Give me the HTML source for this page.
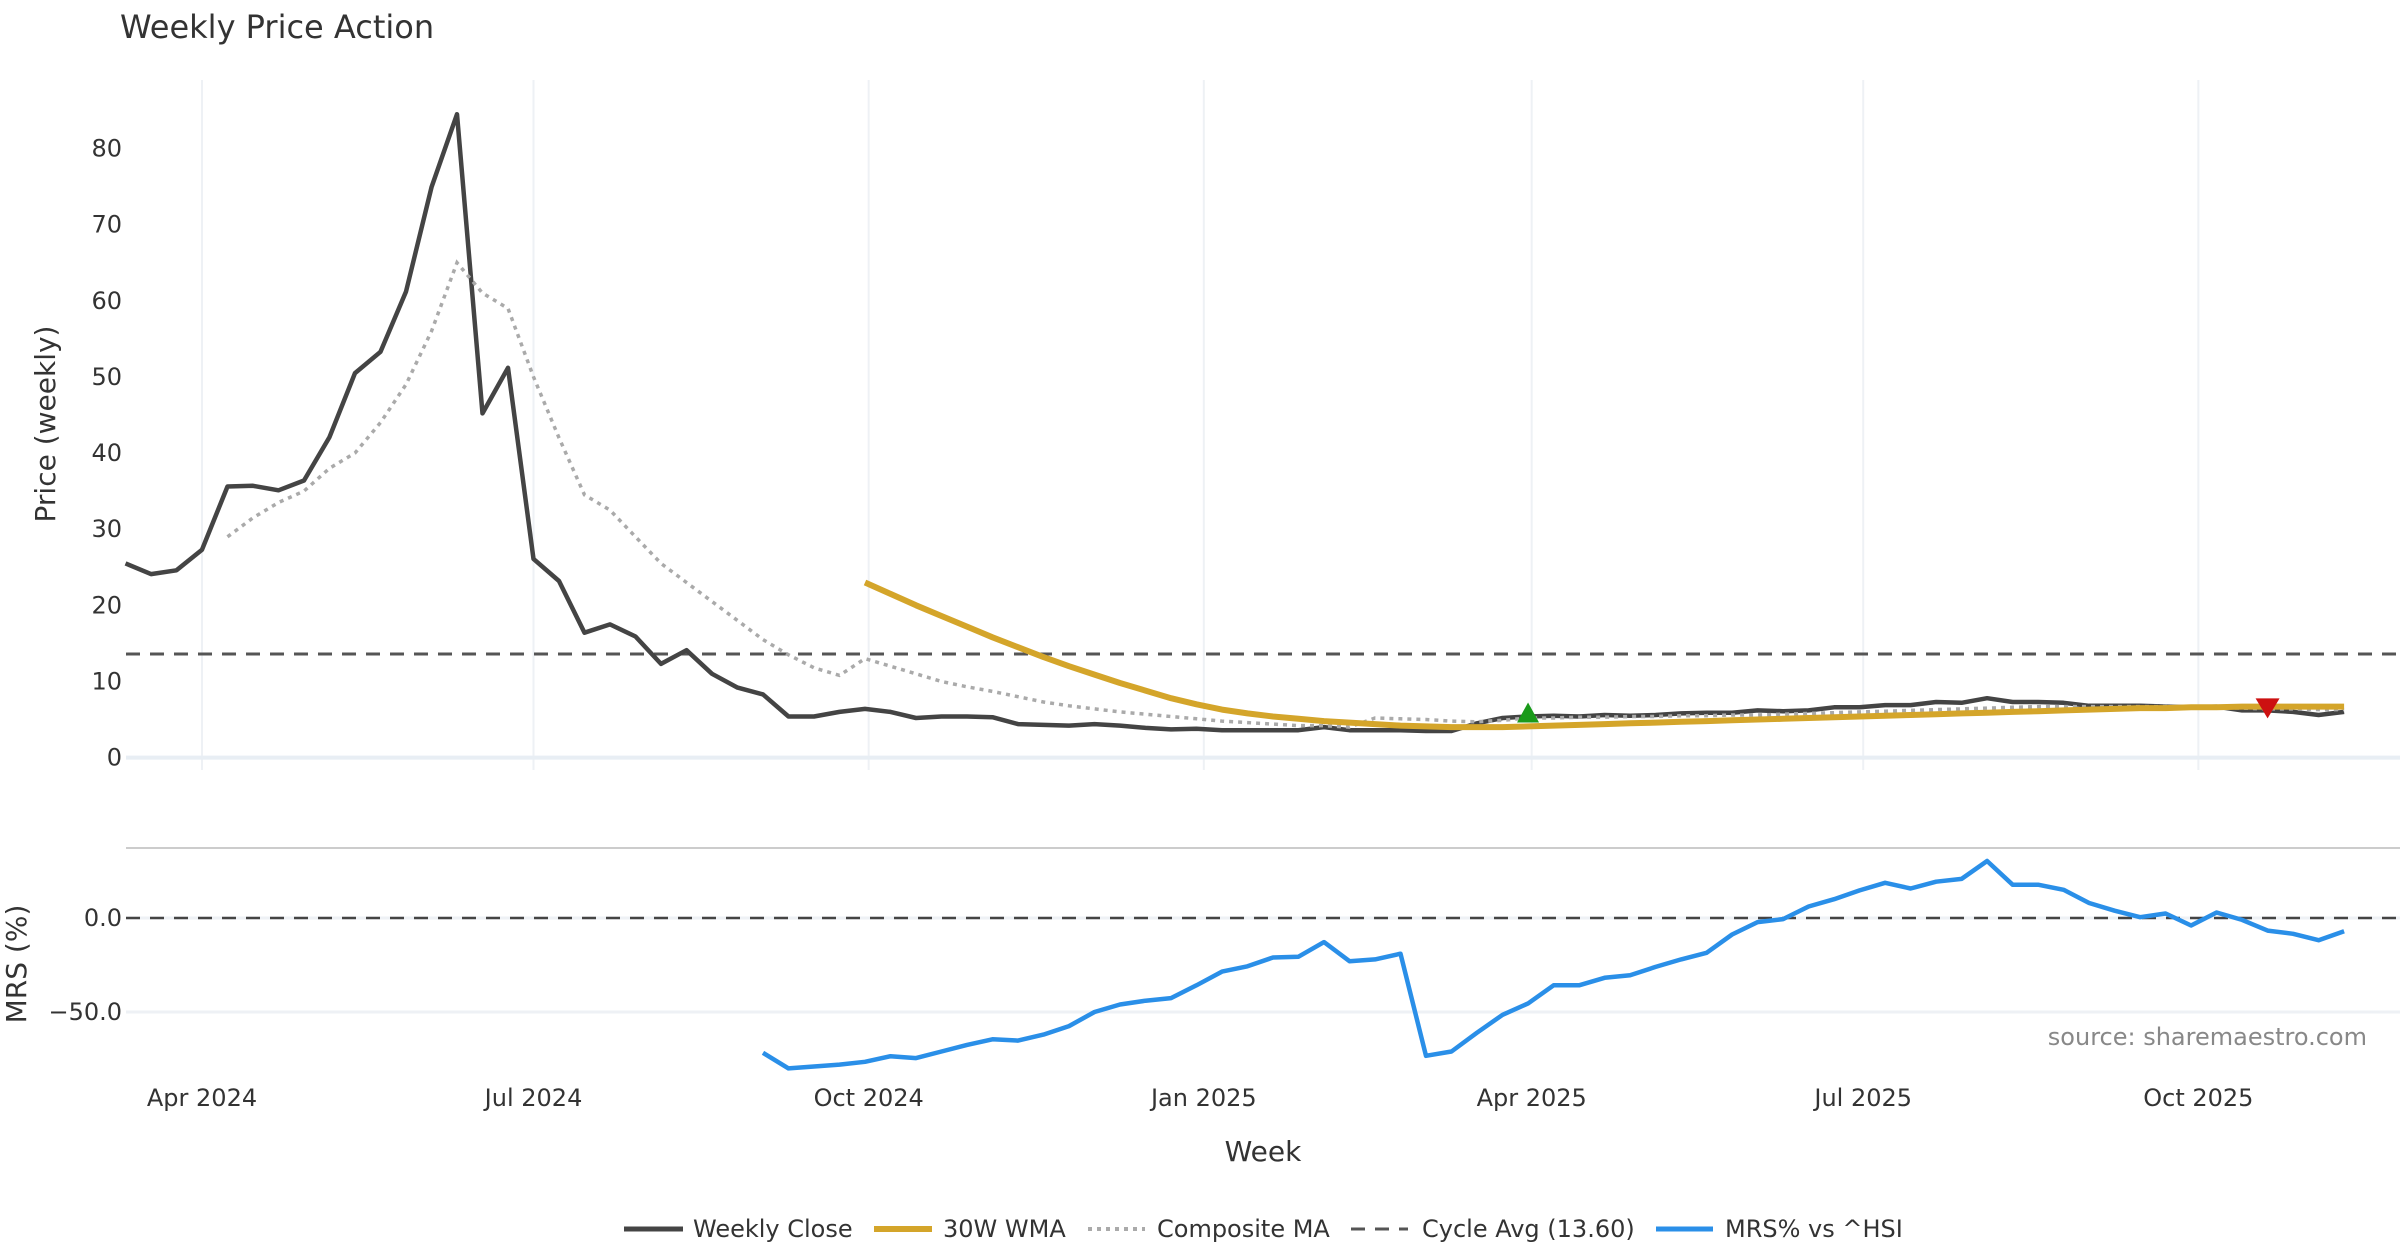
<!DOCTYPE html>
<html><head><meta charset="utf-8"><style>
html,body{margin:0;padding:0;background:#fff;}
svg{display:block;font-family:"DejaVu Sans","Liberation Sans",sans-serif;}
</style></head><body>
<svg id="chart" width="2400" height="1260" viewBox="0 0 2400 1260" xmlns="http://www.w3.org/2000/svg">
<text x="120" y="38" font-size="32" fill="#333">Weekly Price Action</text>
<g id="grid"></g>
<g id="series"></g>
<g id="axes"></g>
<text transform="translate(55,424) rotate(-90)" text-anchor="middle" font-size="28" fill="#333">Price (weekly)</text>
<text transform="translate(26,964) rotate(-90)" text-anchor="middle" font-size="28" fill="#333">MRS (%)</text>
<text x="1263" y="1161" text-anchor="middle" font-size="28" fill="#333">Week</text>
<text x="2367" y="1045" text-anchor="end" font-size="24" fill="#888">source: sharemaestro.com</text>
<g font-size="24" fill="#333">
<g><line x1="624" y1="1229" x2="683" y2="1229" stroke="#444" stroke-width="5"/><text x="693" y="1237">Weekly Close</text></g>
<g><line x1="874" y1="1229" x2="932" y2="1229" stroke="#d4a52a" stroke-width="6"/><text x="943" y="1237">30W WMA</text></g>
<g><line x1="1088" y1="1229" x2="1145" y2="1229" stroke="#aaa" stroke-width="4" stroke-dasharray="4,5"/><text x="1157" y="1237">Composite MA</text></g>
<g><line x1="1351" y1="1229" x2="1408" y2="1229" stroke="#555" stroke-width="3" stroke-dasharray="14,10"/><text x="1422" y="1237">Cycle Avg (13.60)</text></g>
<g><line x1="1656" y1="1229" x2="1713" y2="1229" stroke="#2a8fe8" stroke-width="5"/><text x="1725" y="1237">MRS% vs ^HSI</text></g>
</g>
</svg>
<script>
const startDate = [2024, 2, 11];
const closeVals = [25.5,24.1,24.6,27.3,35.6,35.7,35.1,36.4,42.1,50.5,53.3,61.2,74.9,84.5,45.2,51.2,26.1,23.2,16.4,17.5,15.9,12.3,14.1,11.0,9.2,8.3,5.4,5.4,6.0,6.4,6.0,5.2,5.4,5.4,5.3,4.4,4.3,4.2,4.4,4.2,3.9,3.7,3.8,3.6,3.6,3.6,3.6,4.0,3.6,3.6,3.6,3.5,3.5,4.5,5.2,5.4,5.5,5.4,5.6,5.5,5.6,5.8,5.9,5.9,6.2,6.1,6.2,6.6,6.6,6.9,6.9,7.3,7.2,7.8,7.3,7.3,7.2,6.8,6.8,6.8,6.7,6.6,6.7,6.2,6.2,6.0,5.6,6.0];
const compositeStart = 4;
const compositeVals = [29,31.5,33.5,35,38,40,44,49,56,65,61,59,50,42,34.5,32.5,29,25.5,23,20.5,18,15.5,13.5,11.8,10.8,13,12,11,10,9.3,8.7,8,7.3,6.8,6.4,6,5.7,5.4,5.1,4.8,4.6,4.4,4.2,4.2,4.0,5.2,5.1,5.0,4.8,4.7,4.9,5.2,5.2,5.3,5.3,5.4,5.4,5.5,5.5,5.6,5.6,5.7,5.8,5.9,6.0,6.1,6.2,6.3,6.4,6.5,6.6,6.7,6.7,6.7,6.7,6.7,6.7,6.6,6.6,6.5,6.4,6.4,6.3,6.3];
const wmaStart = 29;
const wmaVals = [23.0,21.5,20.0,18.6,17.2,15.8,14.5,13.2,12.0,10.9,9.8,8.8,7.8,7.0,6.3,5.8,5.4,5.1,4.8,4.6,4.4,4.2,4.1,4.0,4.0,4.0,4.1,4.2,4.3,4.4,4.5,4.6,4.7,4.8,4.9,5.0,5.1,5.2,5.3,5.4,5.5,5.6,5.7,5.8,5.9,6.0,6.1,6.2,6.3,6.4,6.5,6.5,6.6,6.6,6.7,6.7,6.7,6.7,6.7];
const mrsStart = 25;
const mrsVals = [-71.7,-80,-79,-78,-76.5,-73.5,-74.5,-71,-67.5,-64.5,-65.2,-62,-57.5,-50,-46,-44,-42.6,-35.8,-28.5,-25.7,-21,-20.6,-12.8,-23,-22,-19,-73.3,-71,-61,-51.5,-45.4,-35.8,-35.8,-31.8,-30.5,-26,-22,-18.5,-8.8,-2.2,-0.6,6.1,10,14.7,18.7,15.7,19.3,20.8,30.3,17.7,17.7,15,8,3.9,0.4,2.4,-4,2.9,-1,-6.7,-8.4,-11.8,-7.1];
const cycleAvg = 13.6;
const buyIndex = 55;
const sellIndex = 84;
const priceTicks = [0,10,20,30,40,50,60,70,80];
const mrsTicks = [0,-50];
const mrsTickLabels = ["0.0","−50.0"];
const xTickDates = [[2024,3,1],[2024,6,1],[2024,9,1],[2025,0,1],[2025,3,1],[2025,6,1],[2025,9,1]];
const xTickLabels = ["Apr 2024","Jul 2024","Oct 2024","Jan 2025","Apr 2025","Jul 2025","Oct 2025"];

const NS="http://www.w3.org/2000/svg";
const DAY=86400000;
const ref=Date.UTC(2024,3,1);
function xDate(t){return 202+(t-ref)/DAY*3.643;}
function xIdx(i){return xDate(Date.UTC(startDate[0],startDate[1],startDate[2])+i*7*DAY);}
function yP(v){return 757.6-v*7.614;}
function yM(v){return 918-v*1.88;}
const L=126,R=2400;
function mk(parent,tag,attrs){const e=document.createElementNS(NS,tag);for(const k in attrs)e.setAttribute(k,attrs[k]);document.getElementById(parent).appendChild(e);return e;}
function pathFrom(vals,start,yf){let d="";vals.forEach((v,j)=>{d+=(j?"L":"M")+xIdx(start+j).toFixed(1)+","+yf(v).toFixed(1);});return d;}

// grid
xTickDates.forEach((d,k)=>{
  const x=xDate(Date.UTC(d[0],d[1],d[2]));
  const g=mk("grid","line",{x1:x,y1:80,x2:x,y2:770,stroke:"#eef1f5","stroke-width":2});
  
  
  const t=mk("axes","text",{x:x,y:1106,"text-anchor":"middle","font-size":24,fill:"#333"});
  t.textContent=xTickLabels[k];
  
  
});
priceTicks.forEach(v=>{
  const t=mk("axes","text",{x:122,y:yP(v)+8,"text-anchor":"end","font-size":24,fill:"#333"});
  t.textContent=String(v);
  
  
});
const z=mk("grid","line",{x1:L,y1:yP(0),x2:R,y2:yP(0),stroke:"#e8eef4","stroke-width":4});


const bd=mk("grid","line",{x1:L,y1:848,x2:R,y2:848,stroke:"#cccccc","stroke-width":2});


mrsTicks.forEach((v,k)=>{
  const gl=mk("grid","line",{x1:L,y1:yM(v),x2:R,y2:yM(v),stroke:"#eef1f5","stroke-width":3});
  
  
  const t=mk("axes","text",{x:122,y:yM(v)+8,"text-anchor":"end","font-size":24,fill:"#333"});
  t.textContent=mrsTickLabels[k];
  
  
});
const mz=mk("series","line",{x1:L,y1:yM(0),x2:R,y2:yM(0),stroke:"#444","stroke-width":2.5,"stroke-dasharray":"14,10"});



// series
const cy=mk("series","line",{x1:L,y1:yP(cycleAvg),x2:R,y2:yP(cycleAvg),stroke:"#555","stroke-width":3,"stroke-dasharray":"14,10"});


const cl=mk("series","path",{d:pathFrom(closeVals,0,yP),fill:"none",stroke:"#444","stroke-width":4.5,"stroke-linejoin":"round"});


const cm=mk("series","path",{d:pathFrom(compositeVals,compositeStart,yP),fill:"none",stroke:"#aaaaaa","stroke-width":3.5,"stroke-dasharray":"4,5"});


const wm=mk("series","path",{d:pathFrom(wmaVals,wmaStart,yP),fill:"none",stroke:"#d4a52a","stroke-width":6,"stroke-linejoin":"round"});


const ms=mk("series","path",{d:pathFrom(mrsVals,mrsStart,yM),fill:"none",stroke:"#2a8fe8","stroke-width":4.5,"stroke-linejoin":"round"});


// markers
const bx=xIdx(buyIndex),byy=yP(closeVals[buyIndex]);
const bm=mk("series","path",{d:`M${bx},${byy-14}L${bx+11},${byy+6}L${bx-11},${byy+6}Z`,fill:"#1a9a1a"});


const sx=xIdx(sellIndex),sy=yP(closeVals[sellIndex]);
const sm=mk("series","path",{d:`M${sx-12},${sy-12}L${sx+12},${sy-12}L${sx},${sy+8}Z`,fill:"#cc1111"});


</script>
</body></html>
